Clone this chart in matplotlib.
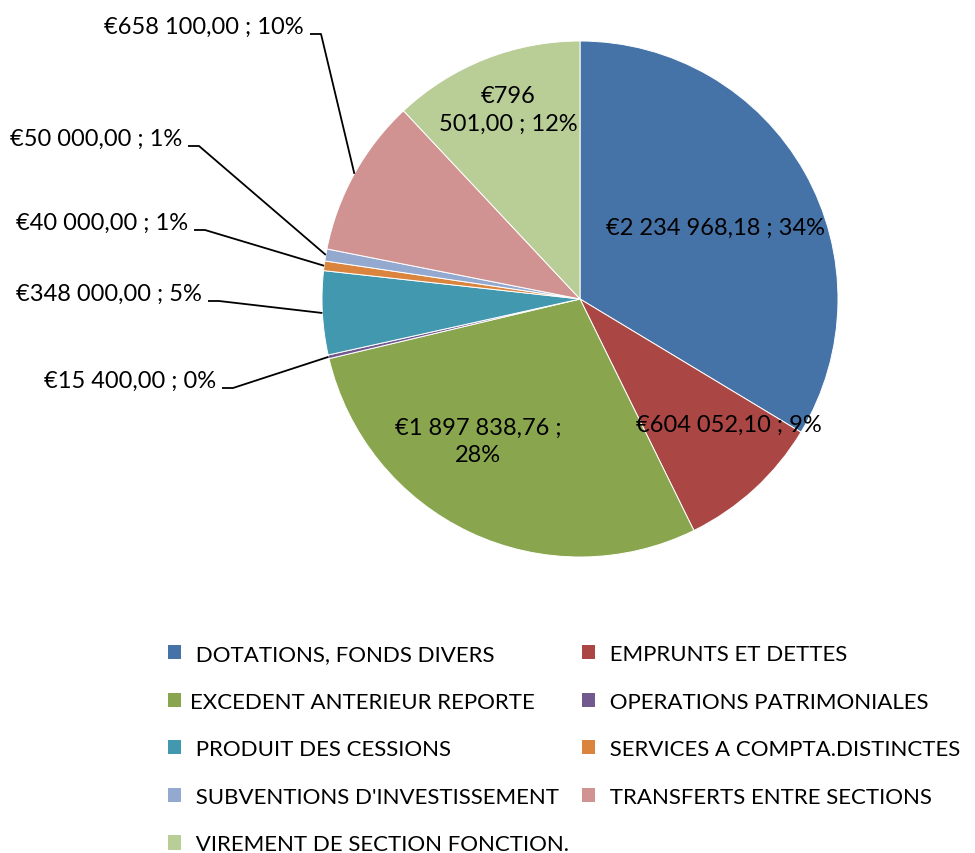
import numpy as np
import matplotlib.pyplot as plt

plt.rcParams['font.family'] = ['Lato', 'DejaVu Sans']

# data
categories = [" DOTATIONS, FONDS DIVERS", " EMPRUNTS ET DETTES", "EXCEDENT ANTERIEUR REPORTE",
              " OPERATIONS PATRIMONIALES", " PRODUIT DES CESSIONS", " SERVICES A COMPTA.DISTINCTES",
              " SUBVENTIONS D'INVESTISSEMENT", " TRANSFERTS ENTRE SECTIONS", " VIREMENT DE SECTION FONCTION."]
amounts = [2234968.18, 604052.10, 1897838.76, 15400.00, 348000.00, 40000.00, 50000.00, 658100.00, 796501.00]
colors = ["#4572A7", "#AA4643", "#89A54E", "#71588F", "#4198AF", "#DB843D", "#93A9CF", "#D19392", "#B9CD96"]

W, H = 975, 854
FS = 17
LEG_FS = 16


def euro(v):
    s = f"{v:,.2f}".replace(",", " ").replace(".", ",")
    return "€" + s


def pct_round(vals):
    # largest remainder so the shown percentages add to 100
    p = np.array(vals) / sum(vals) * 100
    base = np.floor(p).astype(int)
    rest = 100 - base.sum()
    order = np.argsort(-(p - base))
    base[order[:rest]] += 1
    return base


fig = plt.figure(figsize=(W / 100, H / 100), dpi=100)
ax = fig.add_axes([0, 0, 1, 1])
cx, cy, rad = 580, H - 300, 258

wedges, _ = ax.pie(amounts, colors=colors, startangle=90, counterclock=False,
                   center=(cx, cy), radius=rad,
                   wedgeprops=dict(edgecolor="white", linewidth=0.7))
ax.set_xlim(0, W)
ax.set_ylim(0, H)
ax.set_aspect("equal")
ax.axis("off")

pcts = pct_round(amounts)
labels = [f"{euro(a)} ; {p}%" for a, p in zip(amounts, pcts)]
labels[2] = labels[2].replace(" ; ", " ;\n")
labels[8] = labels[8].replace(" ", "\n", 1)

# labels inside the slices (pixel centres)
inside = {0: (716, 228), 1: (729, 425), 2: (478, 442), 8: (508, 110)}
for i, (px, py) in inside.items():
    ax.text(px, H - py, labels[i], ha="center", va="center", fontsize=FS,
            linespacing=1.4)

# labels outside with leader lines (right end of text, pixel)
outside = {3: (216, 381), 4: (202, 294), 5: (188, 223), 6: (182, 139), 7: (304, 27)}
for i, (px, py) in outside.items():
    w = wedges[i]
    mid = np.deg2rad((w.theta1 + w.theta2) / 2)
    ex, ey = cx + rad * np.cos(mid), cy + rad * np.sin(mid)
    ax.text(px, H - py, labels[i], ha="right", va="center", fontsize=FS)
    ly = H - (py + 8)
    ax.plot([px + 6, px + 17, ex], [ly, ly, ey], color="black", lw=1.3,
            solid_capstyle="butt")

order = [0, 2, 4, 6, 8, 1, 3, 5, 7]
leg = ax.legend([wedges[i] for i in order], [categories[i] for i in order],
                ncol=2, frameon=False, loc="upper left",
                bbox_to_anchor=(157 / W, 1 - 634 / H), fontsize=LEG_FS,
                handlelength=0.6, handleheight=0.6, handletextpad=0.4,
                labelspacing=1.24, columnspacing=0.55, borderpad=0)
for h in leg.legend_handles:
    h.set_edgecolor("none")

fig.savefig("out.png", dpi=100)
